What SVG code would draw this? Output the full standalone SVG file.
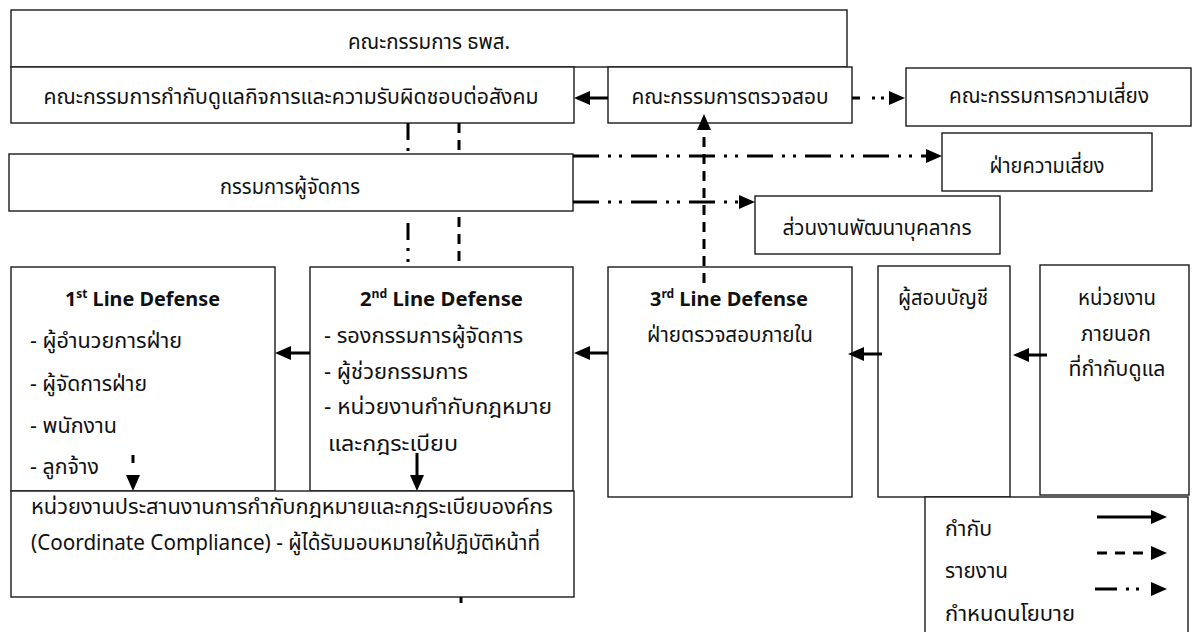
<svg xmlns="http://www.w3.org/2000/svg" width="1193" height="632" viewBox="0 0 1193 632">
<style>
.box{fill:#fff;stroke:#1a1a1a;stroke-width:1.4}
.t{font-family:"Noto Sans Thai","Leelawadee UI","Noto Sans",sans-serif;font-size:21px;fill:#111}
.h{font-family:"Noto Sans","Open Sans",sans-serif;font-weight:bold;font-size:20px;fill:#111}
.c{stroke:#000;stroke-width:3;fill:none}
.a{marker-end:url(#ah)}
.dash{stroke-dasharray:10 7}
.dd{stroke-dasharray:26 9 3 8 3 9}
</style>
<defs>
<marker id="ah" markerUnits="userSpaceOnUse" markerWidth="16" markerHeight="14" refX="6" refY="7" orient="auto" viewBox="0 0 16 14">
<path d="M0,0 L16,7 L0,14 z" fill="#000"/>
</marker>
</defs>

<g id="n-board"><rect class="box" x="11" y="10" width="836" height="57"/><text class="t" x="429" y="49" text-anchor="middle" textLength="162" lengthAdjust="spacingAndGlyphs">คณะกรรมการ ธพส.</text></g>
<g id="n-cg"><rect class="box" x="11" y="67" width="563" height="56"/><text class="t" x="291" y="104" text-anchor="middle" textLength="495" lengthAdjust="spacingAndGlyphs">คณะกรรมการกำกับดูแลกิจการและความรับผิดชอบต่อสังคม</text></g>
<g id="n-audit"><rect class="box" x="608" y="67" width="244" height="56"/><text class="t" x="730" y="104" text-anchor="middle" textLength="197" lengthAdjust="spacingAndGlyphs">คณะกรรมการตรวจสอบ</text></g>
<g id="n-riskcom"><rect class="box" x="906" y="68" width="285" height="58"/><text class="t" x="1049" y="103" text-anchor="middle" textLength="200" lengthAdjust="spacingAndGlyphs">คณะกรรมการความเสี่ยง</text></g>
<g id="n-riskdept"><rect class="box" x="942" y="133" width="210" height="58"/><text class="t" x="1047" y="173" text-anchor="middle" textLength="115" lengthAdjust="spacingAndGlyphs">ฝ่ายความเสี่ยง</text></g>
<g id="n-md"><rect class="box" x="9" y="154" width="564" height="57"/><text class="t" x="290" y="194" text-anchor="middle" textLength="140" lengthAdjust="spacingAndGlyphs">กรรมการผู้จัดการ</text></g>
<g id="n-hrd"><rect class="box" x="755" y="196" width="245" height="58"/><text class="t" x="877" y="235" text-anchor="middle" textLength="189" lengthAdjust="spacingAndGlyphs">ส่วนงานพัฒนาบุคลากร</text></g>

<g id="n-line1"><rect class="box" x="11" y="267" width="264" height="224"/>
<text class="h" x="142.5" y="306" text-anchor="middle" textLength="155" lengthAdjust="spacingAndGlyphs">1<tspan font-size="12" dy="-8">st</tspan><tspan dy="8"> Line Defense</tspan></text>
<text class="t" x="30" y="348" textLength="152" lengthAdjust="spacingAndGlyphs">- ผู้อำนวยการฝ่าย</text>
<text class="t" x="30" y="391" textLength="117" lengthAdjust="spacingAndGlyphs">- ผู้จัดการฝ่าย</text>
<text class="t" x="30" y="433" textLength="87" lengthAdjust="spacingAndGlyphs">- พนักงาน</text>
<text class="t" x="30" y="474" textLength="69" lengthAdjust="spacingAndGlyphs">- ลูกจ้าง</text></g>

<g id="n-line2"><rect class="box" x="310" y="267" width="263" height="224"/>
<text class="h" x="441.5" y="306" text-anchor="middle" textLength="163" lengthAdjust="spacingAndGlyphs">2<tspan font-size="12" dy="-8">nd</tspan><tspan dy="8"> Line Defense</tspan></text>
<text class="t" x="324" y="343" textLength="199" lengthAdjust="spacingAndGlyphs">- รองกรรมการผู้จัดการ</text>
<text class="t" x="324" y="379" textLength="144" lengthAdjust="spacingAndGlyphs">- ผู้ช่วยกรรมการ</text>
<text class="t" x="324" y="414" textLength="228" lengthAdjust="spacingAndGlyphs">- หน่วยงานกำกับกฎหมาย</text>
<text class="t" x="328" y="451" textLength="130" lengthAdjust="spacingAndGlyphs">และกฎระเบียบ</text></g>

<g id="n-line3"><rect class="box" x="608" y="267" width="244" height="230"/>
<text class="h" x="729" y="306" text-anchor="middle" textLength="158" lengthAdjust="spacingAndGlyphs">3<tspan font-size="12" dy="-8">rd</tspan><tspan dy="8"> Line Defense</tspan></text>
<text class="t" x="730" y="342" text-anchor="middle" textLength="166" lengthAdjust="spacingAndGlyphs">ฝ่ายตรวจสอบภายใน</text></g>

<g id="n-auditor"><rect class="box" x="878" y="266" width="132" height="231"/>
<text class="t" x="943" y="305" text-anchor="middle" textLength="90" lengthAdjust="spacingAndGlyphs">ผู้สอบบัญชี</text></g>

<g id="n-external"><rect class="box" x="1040" y="265" width="149" height="230"/>
<text class="t" x="1117" y="305" text-anchor="middle" textLength="78" lengthAdjust="spacingAndGlyphs">หน่วยงาน</text>
<text class="t" x="1116" y="341" text-anchor="middle" textLength="70" lengthAdjust="spacingAndGlyphs">ภายนอก</text>
<text class="t" x="1117" y="376" text-anchor="middle" textLength="97" lengthAdjust="spacingAndGlyphs">ที่กำกับดูแล</text></g>

<g id="n-compliance"><rect class="box" x="11" y="491" width="563" height="106"/>
<text class="t" x="31" y="514" textLength="522" lengthAdjust="spacingAndGlyphs">หน่วยงานประสานงานการกำกับกฎหมายและกฎระเบียบองค์กร</text>
<text class="t" x="31" y="550" textLength="509" lengthAdjust="spacingAndGlyphs">(Coordinate Compliance) - ผู้ได้รับมอบหมายให้ปฏิบัติหน้าที่</text></g>

<g id="legend"><rect class="box" x="925" y="497" width="263" height="150"/>
<text class="t" x="945" y="536" textLength="47" lengthAdjust="spacingAndGlyphs">กำกับ</text>
<text class="t" x="945" y="578" textLength="63" lengthAdjust="spacingAndGlyphs">รายงาน</text>
<text class="t" x="945" y="621" textLength="130" lengthAdjust="spacingAndGlyphs">กำหนดนโยบาย</text>
<line class="c a" x1="1097" y1="517" x2="1157" y2="517"/>
<line class="c a" x1="1097" y1="553" x2="1157" y2="553" style="stroke-dasharray:10 8"/>
<line class="c a" x1="1095" y1="589" x2="1157" y2="589" style="stroke-dasharray:22 9 3 7 3 30"/>
</g>

<g id="connectors">
<line class="c a" x1="608" y1="98" x2="584" y2="98"/>
<line class="c a" x1="852" y1="98" x2="895" y2="98" style="stroke-dasharray:8 12 3 6 3 100"/>
<line class="c a dd" x1="573" y1="156" x2="932" y2="156"/>
<line class="c a dd" x1="573" y1="202" x2="745" y2="202"/>
<line class="c a dash" x1="704" y1="283" x2="704" y2="124"/>
<line class="c" x1="408" y1="123" x2="408" y2="154" style="stroke-dasharray:17 8 3 8 3 8"/>
<line class="c" x1="408" y1="223" x2="408" y2="267" style="stroke-dasharray:17 8 3 8 3 8"/>
<line class="c dash" x1="459" y1="123" x2="459" y2="154"/>
<line class="c dash" x1="459" y1="217" x2="459" y2="267"/>
<line class="c" x1="461" y1="597" x2="461" y2="603"/>
<line class="c a" x1="310" y1="353" x2="285" y2="353"/>
<line class="c a" x1="608" y1="353" x2="584" y2="353"/>
<line class="c a" x1="882" y1="354" x2="858" y2="354"/>
<line class="c a" x1="1047" y1="355" x2="1023" y2="355"/>
<line class="c a" x1="133" y1="455" x2="133" y2="481" style="stroke-dasharray:8 40"/>
<line class="c a" x1="417" y1="453" x2="417" y2="481"/>
</g>
</svg>
